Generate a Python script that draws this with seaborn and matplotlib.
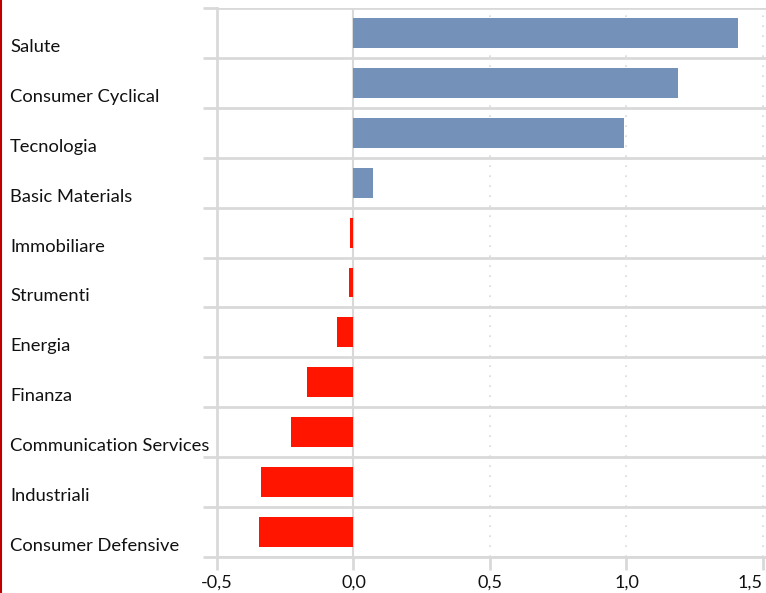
import pandas as pd
import matplotlib.pyplot as plt
import seaborn as sns
from matplotlib.lines import Line2D
from matplotlib.transforms import blended_transform_factory

# dati del grafico
settori = ['Salute', 'Consumer Cyclical', 'Tecnologia', 'Basic Materials', 'Immobiliare',
           'Strumenti', 'Energia', 'Finanza', 'Communication Services', 'Industriali',
           'Consumer Defensive']
valori = [1.41, 1.19, 0.99, 0.07, -0.012, -0.018, -0.06, -0.17, -0.23, -0.34, -0.345]
tick_x = [-0.5, 0.0, 0.5, 1.0, 1.5]
tick_lab = ['-0,5', '0,0', '0,5', '1,0', '1,5']

sns.set_style('white')
plt.rcParams['font.family'] = ['Lato', 'DejaVu Sans']

blu = '#7391B9'
rosso = '#FF1500'
grigio = '#D9D9D9'

df = pd.DataFrame({'settore': settori, 'valore': valori})
df['segno'] = ['pos' if v >= 0 else 'neg' for v in valori]

fig = plt.figure(figsize=(7.66, 5.93), dpi=100)
ax = fig.add_axes([217 / 766, 1 - 557 / 593, 549 / 766, 549 / 593])

sns.barplot(data=df, x='valore', y='settore', hue='segno', palette={'pos': blu, 'neg': rosso},
            order=settori, dodge=False, width=0.6, legend=False, ax=ax, saturation=1,
            linewidth=0)

ax.set_xlim(-0.5, 1.511)
ax.set_ylim(len(settori) - 0.5, -0.5)

# linee verticali
for t in tick_x[1:]:
    if t == 0.0:
        ax.axvline(t, color=grigio, lw=1.5, zorder=0)
    else:
        ax.axvline(t, color=grigio, lw=1.2, ls=(0, (1, 5)), zorder=0)

# separatori orizzontali tra le categorie
bordi = [i - 0.5 for i in range(len(settori) + 1)]
ax.set_yticks(bordi, minor=True)
ax.set_yticks([])
ax.grid(which='minor', axis='y', color=grigio, lw=2, zorder=0)
ax.set_axisbelow(True)
ax.tick_params(axis='y', which='minor', length=10, width=2, color=grigio, left=True)

ax.set_xticks(tick_x, tick_lab)
ax.tick_params(axis='x', length=9.5, width=2, color=grigio, bottom=True, labelsize=13,
               pad=3, labelcolor='#111111')
# l'ultima etichetta resta dentro la figura
ax.get_xticklabels()[-1].set_horizontalalignment('right')

for s in ['top', 'right']:
    ax.spines[s].set_visible(False)
for s in ['left', 'bottom']:
    ax.spines[s].set_color(grigio)
    ax.spines[s].set_linewidth(2)

ax.set_xlabel('')
ax.set_ylabel('')

# etichette delle categorie allineate a sinistra
trans = blended_transform_factory(fig.transFigure, ax.transData)
for i, nome in enumerate(settori):
    ax.text(10 / 766, i + 0.28, nome, transform=trans, ha='left', va='center',
            fontsize=13.2, color='#111111')

fig.add_artist(Line2D([0.0008, 0.0008], [0, 1], color='#C00000', lw=1.5,
                      transform=fig.transFigure))

plt.savefig('out.png', dpi=100)
plt.close()
